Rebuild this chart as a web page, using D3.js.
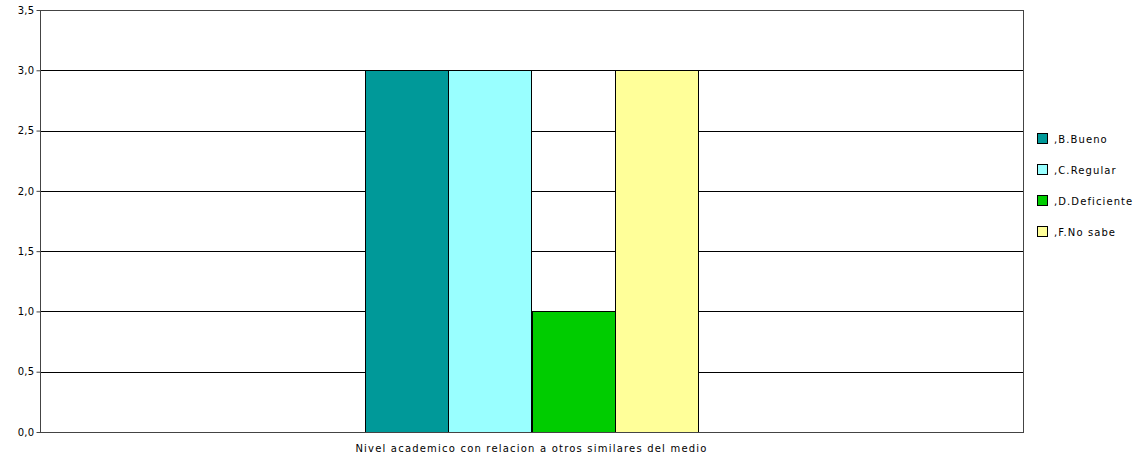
<!DOCTYPE html>
<html>
<head>
<meta charset="utf-8">
<script src="https://cdn.jsdelivr.net/npm/d3@7"></script>
<style>
  body { margin: 0; background: #fff; }
  text { font-family: "DejaVu Sans", Verdana, sans-serif; font-size: 10px; fill: #000; }
</style>
</head>
<body>
<svg id="chart" width="1142" height="459"></svg>
<script>
const categories = ["Nivel academico con relacion a otros similares del medio"];
const seriesNames = [",B.Bueno", ",C.Regular", ",D.Deficiente", ",F.No sabe"];
const seriesValues = [3, 3, 1, 3];
const seriesColors = ["#009999", "#99ffff", "#00cc00", "#ffff99"];
const yTicks = [0, 0.5, 1, 1.5, 2, 2.5, 3, 3.5];

const svg = d3.select("#chart");
const margin = { left: 40, right: 119, top: 10, bottom: 27 };
const width = 1142 - margin.left - margin.right;
const height = 459 - margin.top - margin.bottom;

const g = svg.append("g").attr("transform", `translate(${margin.left},${margin.top})`);

const x0 = d3.scaleBand().domain(categories).range([0, width]).paddingInner(0).paddingOuter(0.975);
const x1 = d3.scaleBand().domain(seriesNames).range([0, x0.bandwidth()]);
const y = d3.scaleLinear().domain([0, 3.5]).range([height, 0]);

// gridlines
g.selectAll(".grid")
  .data(yTicks.slice(1, -1))
  .join("line")
  .attr("x1", 0).attr("x2", width)
  .attr("y1", d => Math.round(y(d)) + 0.5).attr("y2", d => Math.round(y(d)) + 0.5)
  .attr("stroke", "#000");

// bars
g.selectAll(".bar")
  .data(seriesNames.map((s, i) => ({ s, v: seriesValues[i], c: seriesColors[i] })))
  .join("rect")
  .attr("x", d => Math.round(x0(categories[0]) + x1(d.s)) + 0.5)
  .attr("y", d => Math.round(y(d.v)) + 0.5)
  .attr("width", Math.round(x1.bandwidth()))
  .attr("height", d => Math.round(height - y(d.v)))
  .attr("fill", d => d.c)
  .attr("stroke", "#000");

// frame
g.append("rect")
  .attr("x", 0.5).attr("y", 0.5)
  .attr("width", width).attr("height", height)
  .attr("fill", "none")
  .attr("stroke", "#444");

// y axis
const yAxis = d3.axisLeft(y).tickValues(yTicks).tickSize(4)
  .tickFormat(d => d3.format(".1f")(d).replace(".", ","));
g.append("g").attr("transform", "translate(0.5,0)").call(yAxis)
  .call(a => a.select(".domain").remove())
  .call(a => a.selectAll("line").attr("stroke", "#444"))
  .call(a => a.selectAll("text").attr("x", -6).style("letter-spacing", "0.3px"));

// x label
g.append("text")
  .attr("x", x0(categories[0]) + x0.bandwidth() / 2)
  .attr("y", height + 20)
  .attr("text-anchor", "middle")
  .style("letter-spacing", "1.2px")
  .text(categories[0]);

// legend
const legend = svg.append("g").attr("transform", "translate(1037,133)");
seriesNames.forEach((s, i) => {
  const row = legend.append("g").attr("transform", `translate(0,${i * 31})`);
  row.append("rect").attr("x", 0.5).attr("y", 0.5).attr("width", 10).attr("height", 10)
    .attr("fill", seriesColors[i]).attr("stroke", "#000");
  row.append("text").attr("x", 17).attr("y", 10)
    .style("letter-spacing", "1.1px").text(s);
});
</script>
</body>
</html>
